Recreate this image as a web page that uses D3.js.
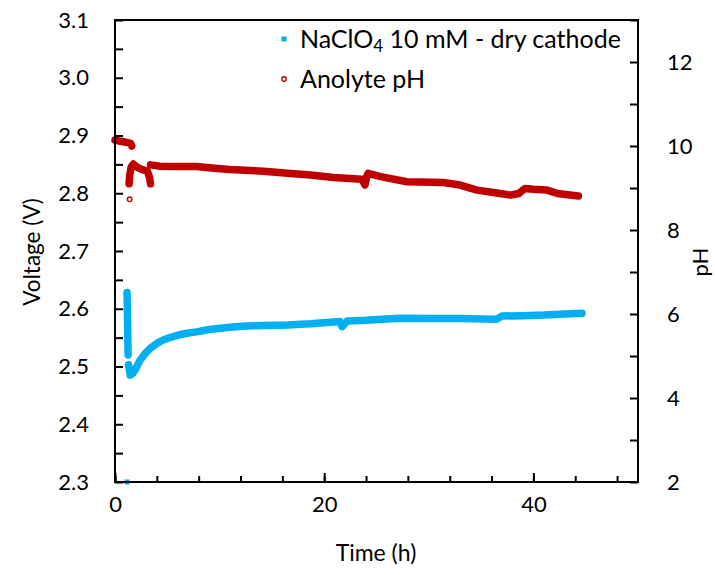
<!DOCTYPE html>
<html><head><meta charset="utf-8">
<script src="https://cdn.jsdelivr.net/npm/d3@7"></script>
<style>
body{margin:0;background:#fff;}
text{font-family:Lato,"Open Sans",sans-serif;fill:#000;}
</style></head>
<body><svg id="c" width="715" height="575"></svg>
<script>
// Voltage series (time h, voltage V); null breaks the trace
const voltTime = [1.15,1.2,1.25,null,1.3,1.45,1.7,2.0,2.4,2.9,3.35,4.0,4.6,5.4,6.2,7.0,7.8,9.0,11.0,12.5,14.2,16.5,18.7,20.9,21.5,21.7,22.2,24.0,25.5,27.3,30.0,33.0,36.5,37.0,39.0,41.0,43.0,44.65];
const voltVal  = [2.628,2.58,2.52,null,2.503,2.485,2.488,2.497,2.511,2.523,2.531,2.540,2.546,2.551,2.555,2.558,2.560,2.564,2.568,2.570,2.571,2.572,2.574,2.577,2.578,2.569,2.579,2.580,2.582,2.5835,2.583,2.583,2.582,2.5875,2.588,2.589,2.591,2.592];
const voltOutlierTime = [1.15];
const voltOutlierVal = [2.3];

// Anolyte pH series (time h, pH); null breaks the trace
const phTime = [0,0.4,0.8,1.2,1.5,1.6,null,1.35,1.4,1.55,1.75,2.2,2.7,3.1,3.3,3.4,null,3.4,4.3,6.0,7.8,9.5,11.0,14.2,16.5,18.7,20.9,23.6,23.9,24.1,24.2,25.4,27.9,31.4,33.0,34.6,36.5,37.8,38.6,39.2,40.0,41.3,42.3,43.3,44.3];
const phVal  = [10.14,10.12,10.10,10.08,10.06,10.0,null,9.1,9.3,9.5,9.57,9.48,9.43,9.4,9.25,9.1,null,9.55,9.52,9.51,9.51,9.47,9.44,9.40,9.35,9.31,9.25,9.21,9.07,9.30,9.35,9.27,9.15,9.13,9.07,8.95,8.88,8.83,8.87,8.99,8.97,8.95,8.87,8.84,8.81];
const phOutlierTime = [1.4];
const phOutlierVal = [8.73];

const xTicks = [0,20,40];
const xMinorTicks = [0,4,8,12,16,20,24,28,32,36,40,44,48];
const yLeftTicks = [2.3,2.4,2.5,2.6,2.7,2.8,2.9,3.0,3.1];
const yLeftMinor = [2.35,2.45,2.55,2.65,2.75,2.85,2.95,3.05];
const yRightTicks = [2,4,6,8,10,12];
const yRightMinor = [3,5,7,9,11,13];

const svg = d3.select("#c");
const L=115,R=638,T=20,B=482;
const x = d3.scaleLinear().domain([0,50]).range([L,R]);
const yV = d3.scaleLinear().domain([2.3,3.1]).range([B,T]);
const yP = d3.scaleLinear().domain([2,13]).range([B,T]);

const blue="#00B0F0", red="#C00000";

// data traces
const vData = voltTime.map((t,i)=>({t,v:voltVal[i]}));
const pData = phTime.map((t,i)=>({t,v:phVal[i]}));
const lineV = d3.line().defined(d=>d.t!==null).x(d=>x(d.t)).y(d=>yV(d.v));
const lineP = d3.line().defined(d=>d.t!==null).x(d=>x(d.t)).y(d=>yP(d.v));

svg.append("path").datum(pData).attr("d",lineP).attr("fill","none")
  .attr("stroke",red).attr("stroke-width",7.5).attr("stroke-linecap","round").attr("stroke-linejoin","round");
svg.append("path").datum(vData).attr("d",lineV).attr("fill","none")
  .attr("stroke",blue).attr("stroke-width",7.5).attr("stroke-linecap","round").attr("stroke-linejoin","round");

svg.selectAll(".po").data(phOutlierTime).enter().append("circle")
  .attr("cx",d=>x(d)).attr("cy",(d,i)=>yP(phOutlierVal[i])).attr("r",2.3)
  .attr("fill","none").attr("stroke",red).attr("stroke-width",1.4);
svg.selectAll(".vo").data(voltOutlierTime).enter().append("rect")
  .attr("x",d=>x(d)-2.5).attr("y",(d,i)=>yV(voltOutlierVal[i])-2.5).attr("width",5).attr("height",5)
  .attr("fill",blue);

// frame
svg.append("rect").attr("x",L).attr("y",T).attr("width",R-L).attr("height",B-T)
  .attr("fill","none").attr("stroke","#000").attr("stroke-width",2);

// tick marks (inward)
function ticksOnly(g){ g.select(".domain").remove(); g.selectAll("text").remove(); g.selectAll("line").attr("stroke","#000").attr("stroke-width",2); }
svg.append("g").attr("transform",`translate(0,${B})`)
  .call(d3.axisBottom(x).tickValues(xMinorTicks).tickSize(-6)).call(ticksOnly);
svg.append("g").attr("transform",`translate(0,${B})`)
  .call(d3.axisBottom(x).tickValues(xTicks).tickSize(-9)).call(ticksOnly);
svg.append("g").attr("transform",`translate(${L},0)`)
  .call(d3.axisLeft(yV).tickValues(yLeftTicks.concat(yLeftMinor)).tickSize(-8)).call(ticksOnly);
svg.append("g").attr("transform",`translate(${R},0)`)
  .call(d3.axisRight(yP).tickValues(yRightTicks.concat(yRightMinor)).tickSize(-8)).call(ticksOnly);

// tick labels
function labelsOnly(g){ g.select(".domain").remove(); g.selectAll("line").remove(); g.selectAll("text").attr("font-size",22).attr("fill","#000").style("font-family","Lato, sans-serif"); }
svg.append("g").attr("transform",`translate(0,${B})`)
  .call(d3.axisBottom(x).tickValues(xTicks).tickSize(0).tickPadding(14).tickFormat(d3.format("d"))).call(labelsOnly);
svg.append("g").attr("transform",`translate(${L},0)`)
  .call(d3.axisLeft(yV).tickValues(yLeftTicks).tickSize(0).tickPadding(26).tickFormat(d3.format(".1f"))).call(labelsOnly);
svg.append("g").attr("transform",`translate(${R},0)`)
  .call(d3.axisRight(yP).tickValues(yRightTicks).tickSize(0).tickPadding(29).tickFormat(d3.format("d"))).call(labelsOnly);

// axis titles
svg.append("text").attr("x",376).attr("y",561).attr("text-anchor","middle").attr("font-size",23).text("Time (h)");
svg.append("text").attr("transform","translate(40,252) rotate(-90)").attr("text-anchor","middle").attr("font-size",22.5).text("Voltage (V)");
svg.append("text").attr("transform","translate(708,262) rotate(-90)").attr("text-anchor","middle").attr("font-size",22).text("pH");

// legend
const lg = svg.append("g");
lg.append("rect").attr("x",281.5).attr("y",36.5).attr("width",5).attr("height",5).attr("fill",blue);
lg.append("circle").attr("cx",284).attr("cy",79).attr("r",2.2).attr("fill","none").attr("stroke",red).attr("stroke-width",1.4);
const t1 = lg.append("text").attr("x",300).attr("y",48).attr("font-size",25);
t1.append("tspan").text("NaClO");
t1.append("tspan").attr("font-size",17).attr("dy",4).text("4");
t1.append("tspan").attr("dy",-4).text(" 10 mM - dry cathode");
lg.append("text").attr("x",300).attr("y",88).attr("font-size",25).text("Anolyte pH");
</script></body></html>
